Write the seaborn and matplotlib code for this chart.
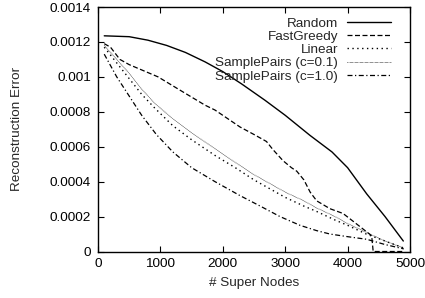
import numpy as np
import pandas as pd
import matplotlib
matplotlib.use("Agg")
import matplotlib.pyplot as plt
import seaborn as sns
from matplotlib.ticker import FuncFormatter

# values
random_x = [100, 500, 800, 1100, 1400, 1715, 2000, 2300, 2676, 3000, 3397, 3750,
            4000, 4306, 4600, 4893]
random_y = [0.001235, 0.00123, 0.00121, 0.00118, 0.00114, 0.001086, 0.00103, 0.00096,
            0.000866, 0.00078, 0.000665, 0.00057, 0.00048, 0.00033, 0.0002, 0.00006]

greedy_x = [100, 200, 350, 500, 962, 1314, 1715, 1875, 2276, 2500, 2700, 2800, 2965,
            3100, 3185, 3300, 3400, 3505, 3718, 3926, 4100, 4279, 4386, 4410, 4900]
greedy_y = [0.00119, 0.00117, 0.0011, 0.00107, 0.001, 0.000924, 0.000838, 0.00081,
            0.000713, 0.00067, 0.00063, 0.000585, 0.00052, 0.00048, 0.00046, 0.00041,
            0.00034, 0.00029, 0.000245, 0.000218, 0.00017, 0.00012, 0.00009, 0.0, 0.0]

linear_x = [100, 300, 500, 700, 913, 1200, 1500, 1875, 2200, 2500, 2800, 3000, 3300,
            3500, 3800, 4000, 4300, 4600, 4900]
linear_y = [0.00117, 0.00108, 0.00099, 0.0009, 0.00082, 0.00072, 0.00064, 0.00055,
            0.00048, 0.00041, 0.00035, 0.00031, 0.00026, 0.00023, 0.00018, 0.00015,
            0.0001, 0.00006, 0.00002]

sp01_x = [100, 300, 500, 700, 913, 1200, 1500, 1827, 2200, 2500, 2800, 3000, 3300,
          3500, 3800, 4000, 4300, 4600, 4900]
sp01_y = [0.00118, 0.0011, 0.00102, 0.00093, 0.000847, 0.00076, 0.00068, 0.0006,
          0.00051, 0.00044, 0.00038, 0.00034, 0.00029, 0.00025, 0.0002, 0.00016,
          0.00011, 0.00006, 0.00002]

sp10_x = [100, 300, 500, 700, 935, 1200, 1500, 1875, 2276, 2600, 2917, 3237, 3500,
          3718, 4000, 4306, 4600, 4900]
sp10_y = [0.00113, 0.001, 0.00089, 0.00078, 0.00067, 0.00057, 0.00048, 0.0004,
          0.00032, 0.00026, 0.0002, 0.00015, 0.00012, 0.0001, 0.000085, 0.00007,
          0.00004, 0.000015]

series = [
    ("Random", random_x, random_y, "-", 1.0),
    ("FastGreedy", greedy_x, greedy_y, (0, (4, 2)), 0.9),
    ("Linear", linear_x, linear_y, (0, (1, 2.5)), 1.0),
    ("SamplePairs (c=0.1)", sp01_x, sp01_y, (0, (0.6, 0.9)), 0.6),
    ("SamplePairs (c=1.0)", sp10_x, sp10_y, (0, (4, 2, 1, 2)), 0.9),
]

sns.set_style("ticks")
plt.rcParams["font.family"] = ["Liberation Sans", "DejaVu Sans"]
fs = 9.7

fig = plt.figure(figsize=(4.25, 2.98), dpi=100)
ax = fig.add_axes([0.2306, 0.156, 0.7341, 0.8205])

for name, xs, ys, ls, lw in series:
    sns.lineplot(x=xs, y=ys, ax=ax, color="black", label=name,
                 linestyle=ls, linewidth=lw, estimator=None, sort=False)

ax.set_xlim(0, 5000)
ax.set_ylim(0, 0.0014)
ax.set_xticks(range(0, 5001, 1000))
ax.set_yticks(np.arange(0, 0.00141, 0.0002))
ax.yaxis.set_major_formatter(FuncFormatter(lambda v, p: "%g" % round(v, 6)))
ax.tick_params(direction="in", length=4, width=0.8, top=True, right=True,
               labelsize=fs, colors="black", pad=5)
for s in ax.spines.values():
    s.set_linewidth(1.0)
    s.set_color("black")

ax.set_xlabel("# Super Nodes", fontsize=fs, labelpad=5)
ax.set_ylabel("Reconstruction Error", fontsize=fs, labelpad=19)

h, l = ax.get_legend_handles_labels()
ax.legend(h, l, loc="upper right", bbox_to_anchor=(0.955, 0.98), frameon=False,
          markerfirst=False, fontsize=fs, handlelength=3.2, handletextpad=0.7,
          labelspacing=0.06, borderpad=0.2, borderaxespad=0.2)

fig.savefig("out.png", dpi=100)
